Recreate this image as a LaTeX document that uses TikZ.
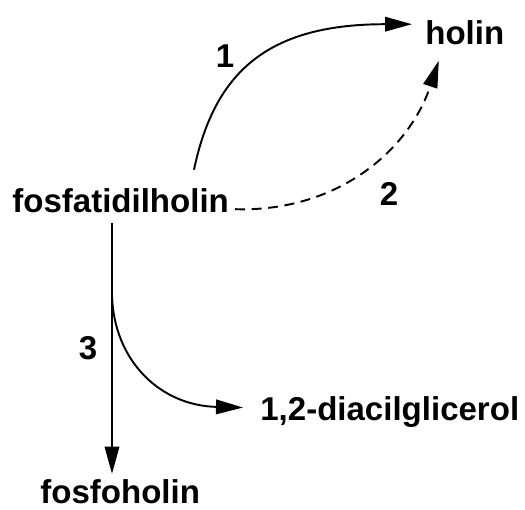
\documentclass[tikz,border=0pt]{standalone}
\usepackage{fontspec}
\setmainfont{Liberation Sans}
\usetikzlibrary{arrows.meta,calc}

\begin{document}
\begin{tikzpicture}[x=0.02cm, y=-0.02cm,
    chem/.style={font=\fontsize{18.8}{22}\selectfont\bfseries, inner sep=0pt, anchor=base west},
    num/.style={font=\fontsize{18.8}{22}\selectfont\bfseries, inner sep=0pt},
    rxn/.style={-{Triangle[length=5.4mm, width=2.9mm]}, line width=1.1pt},
    side/.style={rxn, dash pattern=on 0.2cm off 0.13cm}
]
    \useasboundingbox (0,0) rectangle (525,510);
    \node[chem] (fos) at (12,213) {fosfatidilholin};
    \node[chem] (hol) at (425,45) {holin};
    \node[chem] (dag) at (260,420) {1,2-diacilglicerol};
    \node[chem] (fph) at (40,503) {fosfoholin};
    \node[num] (n1) at (225,56) {1};
    \node[num] (n2) at (389,194) {2};
    \node[num] (n3) at (88,348) {3};
    \coordinate (s1) at ($(fos.north west)+(182,-19)$);
    \coordinate (s3) at ($(fos.south west)+(100,9)$);
    \coordinate (br) at ($(fos.south west)+(100,82)$);
    % 1 and 2: to holin
    \draw[rxn] (s1) .. controls +(21,-100) and +(-142,0) .. ($(hol.west)+(-13,-9)$);
    \draw[side] ($(fos.east)+(6,8)$) .. controls +(102,3) and +(-30,90) .. ($(hol.south)+(-26,15)$);
    % 3: split into fosfoholin and diacilglicerol
    \draw[rxn, shorten >=1mm] (s3) -- (s3 |- fph.north);
    \draw[rxn] (br) .. controls +(2,65) and +(-83,-2) .. ($(dag.west)+(-17,-4)$);
\end{tikzpicture}
\end{document}
